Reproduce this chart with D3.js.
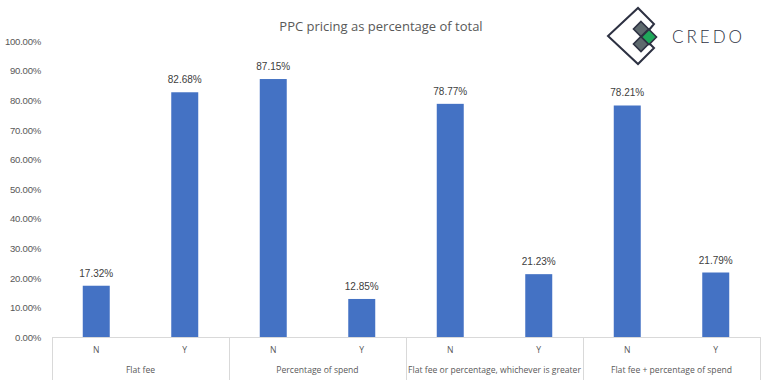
<!DOCTYPE html>
<html><head><meta charset="utf-8">
<script src="https://cdn.jsdelivr.net/npm/d3@7/dist/d3.min.js"></script>
<style>body{margin:0;background:#fff}svg{display:block}</style>
</head><body>
<script>
const groups = ["Flat fee","Percentage of spend","Flat fee or percentage, whichever is greater","Flat fee + percentage of spend"];
const answers = ["N","Y"];
const values = [17.32, 82.68, 87.15, 12.85, 78.77, 21.23, 78.21, 21.79];
const yTicks = [0,10,20,30,40,50,60,70,80,90,100];
const title = "PPC pricing as percentage of total";

const W = 768, H = 380;
const svg = d3.select("body").append("svg").attr("width", W).attr("height", H);

const cats = [];
groups.forEach((g, gi) => answers.forEach((a, ai) => cats.push({g, a, key: gi + "-" + a, v: values[gi * 2 + ai]})));

const x0 = 52, x1 = 760, yTop = 41, yBot = 337;
const x = d3.scaleBand().domain(cats.map(d => d.key)).range([x0, x1]).paddingInner(0.695).paddingOuter(0.3475);
const xg = d3.scaleBand().domain(groups).range([x0, x1]);
const y = d3.scaleLinear().domain([0, 100]).range([yBot, yTop]);

// title
svg.append("text").attr("x", 381).attr("y", 31).attr("text-anchor", "middle")
  .attr("font-family", "Open Sans").attr("font-size", 13).attr("fill", "#595959").text(title);

// y axis labels
const yAxis = d3.axisLeft(y).tickValues(yTicks).tickFormat(d => d.toFixed(2) + "%").tickSize(0).tickPadding(0);
const ga = svg.append("g").attr("transform", "translate(41,0)").call(yAxis);
ga.select(".domain").remove();
ga.selectAll("text").attr("font-family", "Liberation Sans, Arial").attr("font-size", 9.6)
  .attr("letter-spacing", -0.25).attr("fill", "#595959").attr("dy", "0.35em");

// bars
svg.append("g").selectAll("rect").data(cats).join("rect")
  .attr("x", d => x(d.key)).attr("width", x.bandwidth())
  .attr("y", d => y(d.v)).attr("height", d => y(0) - y(d.v))
  .attr("fill", "#4472C4");

// data labels
svg.append("g").selectAll("text").data(cats).join("text")
  .attr("x", d => x(d.key) + x.bandwidth() / 2).attr("y", d => y(d.v) - 9)
  .attr("text-anchor", "middle").attr("font-family", "Liberation Sans, Arial").attr("font-size", 10)
  .attr("fill", "#404040").text(d => d.v.toFixed(2) + "%");

// x axis
const axisColor = "#d9d9d9";
svg.append("line").attr("x1", x0).attr("x2", x1).attr("y1", yBot + 0.5).attr("y2", yBot + 0.5).attr("stroke", axisColor);
const seps = groups.map(g => xg(g)).concat([x1]);
svg.append("g").selectAll("line").data(seps).join("line")
  .attr("x1", d => Math.round(d) + 0.5).attr("x2", d => Math.round(d) + 0.5)
  .attr("y1", yBot).attr("y2", H).attr("stroke", axisColor);

svg.append("g").selectAll("text").data(cats).join("text")
  .attr("x", d => x(d.key) + x.bandwidth() / 2).attr("y", 353)
  .attr("text-anchor", "middle").attr("font-family", "Open Sans").attr("font-size", 8.6)
  .attr("fill", "#595959").text(d => d.a);

svg.append("g").selectAll("text").data(groups).join("text")
  .attr("x", d => xg(d) + xg.bandwidth() / 2).attr("y", 373)
  .attr("text-anchor", "middle").attr("font-family", "Open Sans").attr("font-size", 8.6)
  .attr("fill", "#595959").text(d => d);

// logo
const logo = svg.append("g");
logo.append("path").attr("d", "M649,30 L654,24 L638,8 L608,36 L638,64 L654,48 L648,42")
  .attr("fill", "none").attr("stroke", "#2d3142").attr("stroke-width", 2).attr("stroke-linejoin", "miter");
function sq(cx, cy, r, fill) {
  logo.append("path").attr("d", `M${cx},${cy - r} L${cx + r},${cy} L${cx},${cy + r} L${cx - r},${cy} Z`)
    .attr("fill", fill).attr("stroke", "#2d3142").attr("stroke-width", 1.6);
}
sq(641, 29, 7.5, "#5e6a6e");
sq(641, 44, 7.5, "#5e6a6e");
sq(649, 37, 7.5, "#1fa85a");
svg.append("text").attr("x", 672).attr("y", 43).attr("font-family", "Lato").attr("font-weight", 300).attr("font-size", 17)
  .attr("letter-spacing", 3).attr("fill", "#2d3142").text("CREDO");
</script>
</body></html>
